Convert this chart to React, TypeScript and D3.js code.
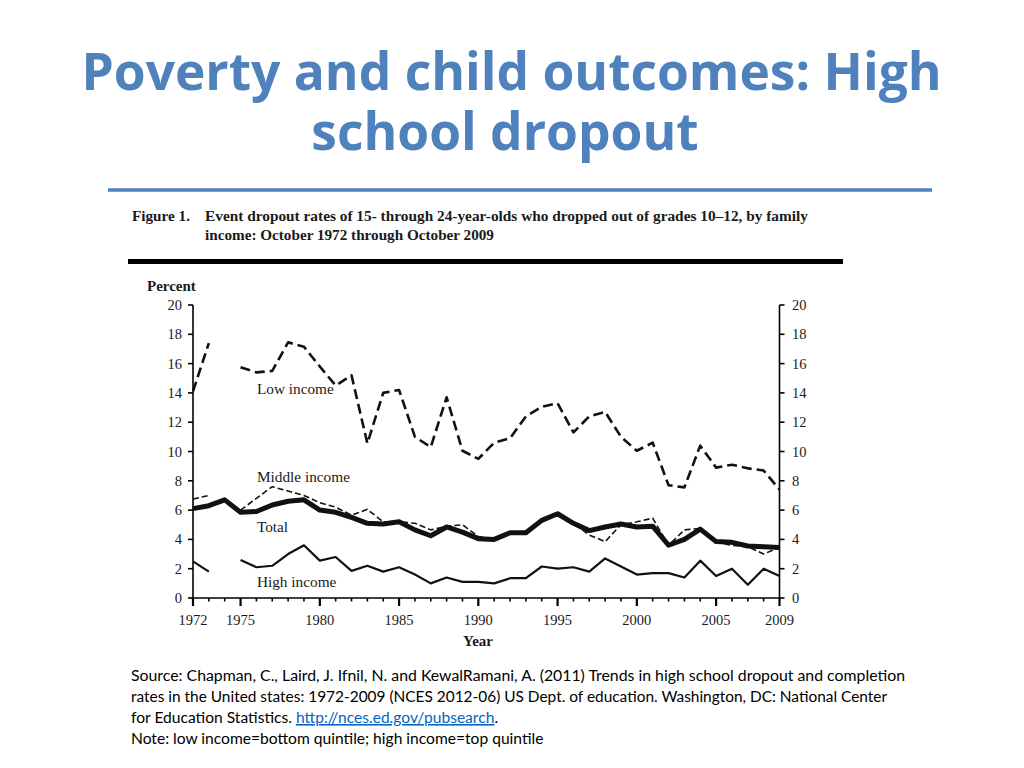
import React from "react";
import * as d3 from "d3";

const years: number[] = [1972,1973,1974,1975,1976,1977,1978,1979,1980,1981,1982,1983,1984,1985,1986,1987,1988,1989,1990,1991,1992,1993,1994,1995,1996,1997,1998,1999,2000,2001,2002,2003,2004,2005,2006,2007,2008,2009];
const lowIncome: (number | null)[] = [14.1,17.4,null,15.75,15.4,15.5,17.45,17.15,15.8,14.5,15.2,10.55,14.0,14.2,11.0,10.3,13.7,10.05,9.5,10.6,10.9,12.4,13.05,13.3,11.3,12.4,12.7,11.0,10.05,10.6,7.7,7.55,10.4,8.9,9.1,8.85,8.7,7.4];
const middleIncome: (number | null)[] = [6.75,7.0,null,6.0,6.8,7.6,7.3,7.0,6.5,6.2,5.65,6.05,5.2,5.2,5.1,4.65,4.9,5.0,4.2,4.0,4.4,4.5,5.3,5.8,5.1,4.3,3.85,5.0,5.2,5.45,3.6,4.65,4.75,3.8,3.6,3.5,3.0,3.45];
const total: (number | null)[] = [6.1,6.3,6.7,5.85,5.9,6.35,6.6,6.7,6.0,5.85,5.5,5.1,5.05,5.2,4.65,4.25,4.85,4.5,4.05,4.0,4.45,4.45,5.3,5.75,5.1,4.6,4.85,5.05,4.85,4.9,3.6,4.0,4.7,3.85,3.8,3.55,3.5,3.45];
const highIncome: (number | null)[] = [2.5,1.8,null,2.6,2.1,2.2,3.0,3.6,2.55,2.8,1.85,2.2,1.8,2.1,1.6,1.0,1.4,1.1,1.1,1.0,1.35,1.35,2.15,2.0,2.1,1.8,2.7,2.15,1.6,1.7,1.7,1.4,2.55,1.5,2.0,0.9,2.0,1.5];

const yTicks: number[] = [0,2,4,6,8,10,12,14,16,18,20];
const xLabelYears: number[] = [1972,1975,1980,1985,1990,1995,2000,2005,2009];

const seriesLabels = [
  { name: "Low income", year: 1976, value: 13.95 },
  { name: "Middle income", year: 1976, value: 7.95 },
  { name: "Total", year: 1976, value: 4.5 },
  { name: "High income", year: 1976, value: 0.75 },
];

const titleLines: string[] = ["Poverty and child outcomes: High", "school dropout"];
const figureCaption: string[] = [
  "Event dropout rates of 15- through 24-year-olds who dropped out of grades 10\u201312, by family",
  "income: October 1972 through October 2009",
];
const sourceLines: string[] = [
  "Source: Chapman, C., Laird, J. Ifnil, N. and KewalRamani, A. (2011) Trends in high school dropout and completion",
  "rates in the United states: 1972-2009 (NCES 2012-06) US Dept. of education. Washington, DC: National Center",
];
const sourceLine3 = "for Education Statistics. ";
const sourceLink = "http://nces.ed.gov/pubsearch";
const noteLine = "Note: low income=bottom quintile; high income=top quintile";

export default function App() {
  const x = d3.scaleLinear().domain([1972, 2009]).range([193, 779.5]);
  const y = d3.scaleLinear().domain([0, 20]).range([598, 305]);

  const mk = (vals: (number | null)[]) =>
    d3
      .line<number>()
      .defined((_, i) => vals[i] !== null)
      .x((d) => x(d))
      .y((_, i) => y(vals[i] as number))(years) as string;

  const serif = "'Liberation Serif', 'Times New Roman', serif";
  const textCol = "#1a1a1a";

  return (
    <svg
      width={1024}
      height={768}
      style={{ position: "absolute", left: 0, top: 0, background: "#fff" }}
    >
      <rect x={0} y={0} width={1024} height={768} fill="#fff" />
      {/* Title */}
      <text fontFamily="'Open Sans', sans-serif" fontWeight={700} fontSize={51.5} fill="#4F81BD" textAnchor="middle">
        <tspan x={511.5} y={90}>{titleLines[0]}</tspan>
        <tspan x={505} y={150}>{titleLines[1]}</tspan>
      </text>
      <line x1={108} x2={932} y1={190} y2={190} stroke="#4F81BD" strokeWidth={3.5} />

      {/* Figure caption */}
      <g fontFamily={serif} fontWeight={700} fontSize={15.2} fill={textCol}>
        <text x={132} y={221}>Figure 1.</text>
        <text x={205} y={221} textLength={603} lengthAdjust="spacingAndGlyphs">{figureCaption[0]}</text>
        <text x={205} y={240}>{figureCaption[1]}</text>
      </g>
      <line x1={128} x2={843} y1={261.5} y2={261.5} stroke="#000" strokeWidth={5} />

      {/* Axes */}
      <g fontFamily={serif} fontSize={14.5} fill={textCol}>
        <text x={147} y={291} fontWeight={700} fontSize={15}>Percent</text>
        {/* left axis */}
        <line x1={x(1972)} x2={x(1972)} y1={y(0)} y2={y(20)} stroke="#000" strokeWidth={1.6} />
        {yTicks.map((t) => (
          <g key={"l" + t}>
            <line x1={x(1972) - 5} x2={x(1972)} y1={y(t)} y2={y(t)} stroke="#000" strokeWidth={1.6} />
            <text x={182} y={y(t) + 5} textAnchor="end">{t}</text>
          </g>
        ))}
        {/* right axis */}
        <line x1={x(2009)} x2={x(2009)} y1={y(0)} y2={y(20)} stroke="#000" strokeWidth={1.6} />
        {yTicks.map((t) => (
          <g key={"r" + t}>
            <line x1={x(2009)} x2={x(2009) + 5} y1={y(t)} y2={y(t)} stroke="#000" strokeWidth={1.6} />
            <text x={792} y={y(t) + 5} textAnchor="start">{t}</text>
          </g>
        ))}
        {/* x axis */}
        <line x1={x(1972) - 1.5} x2={x(2009) + 1} y1={y(0)} y2={y(0)} stroke="#000" strokeWidth={1.6} />
        {years.map((yr) => {
          const major = xLabelYears.includes(yr);
          return (
            <line
              key={"xt" + yr}
              x1={x(yr)}
              x2={x(yr)}
              y1={y(0)}
              y2={y(0) + (major ? 8 : 3.5)}
              stroke="#000"
              strokeWidth={major ? 2.2 : 1.6}
            />
          );
        })}
        {xLabelYears.map((yr) => (
          <text key={"xl" + yr} x={x(yr)} y={625} textAnchor="middle">{yr}</text>
        ))}
        <text x={478} y={646} textAnchor="middle" fontWeight={700} fontSize={15}>Year</text>
      </g>

      {/* Series */}
      <g fill="none" strokeLinejoin="round">
        <path d={mk(lowIncome)} stroke="#111" strokeWidth={2.6} strokeDasharray="10 5" />
        <path d={mk(highIncome)} stroke="#111" strokeWidth={2.2} />
        <path d={mk(total)} stroke="#111" strokeWidth={5} />
        <path d={mk(middleIncome)} stroke="#111" strokeWidth={1.6} strokeDasharray="6 3" />
      </g>

      {/* Series labels */}
      <g fontFamily={serif} fontSize={15.3} fill={textCol}>
        {seriesLabels.map((s) => (
          <text key={s.name} x={x(s.year) + 0.5} y={y(s.value)}>{s.name}</text>
        ))}
      </g>

      {/* Source */}
      <g fontFamily="Lato, 'Open Sans', sans-serif" fontSize={15.6} fill="#000">
        <text x={131} y={681} textLength={774} lengthAdjust="spacingAndGlyphs">{sourceLines[0]}</text>
        <text x={131} y={702} textLength={756} lengthAdjust="spacingAndGlyphs">{sourceLines[1]}</text>
        <text x={131} y={723}>
          {sourceLine3}
          <tspan fill="#0563C1" textDecoration="underline">{sourceLink}</tspan>
          <tspan>.</tspan>
        </text>
        <text x={131} y={744}>{noteLine}</text>
      </g>
    </svg>
  );
}
